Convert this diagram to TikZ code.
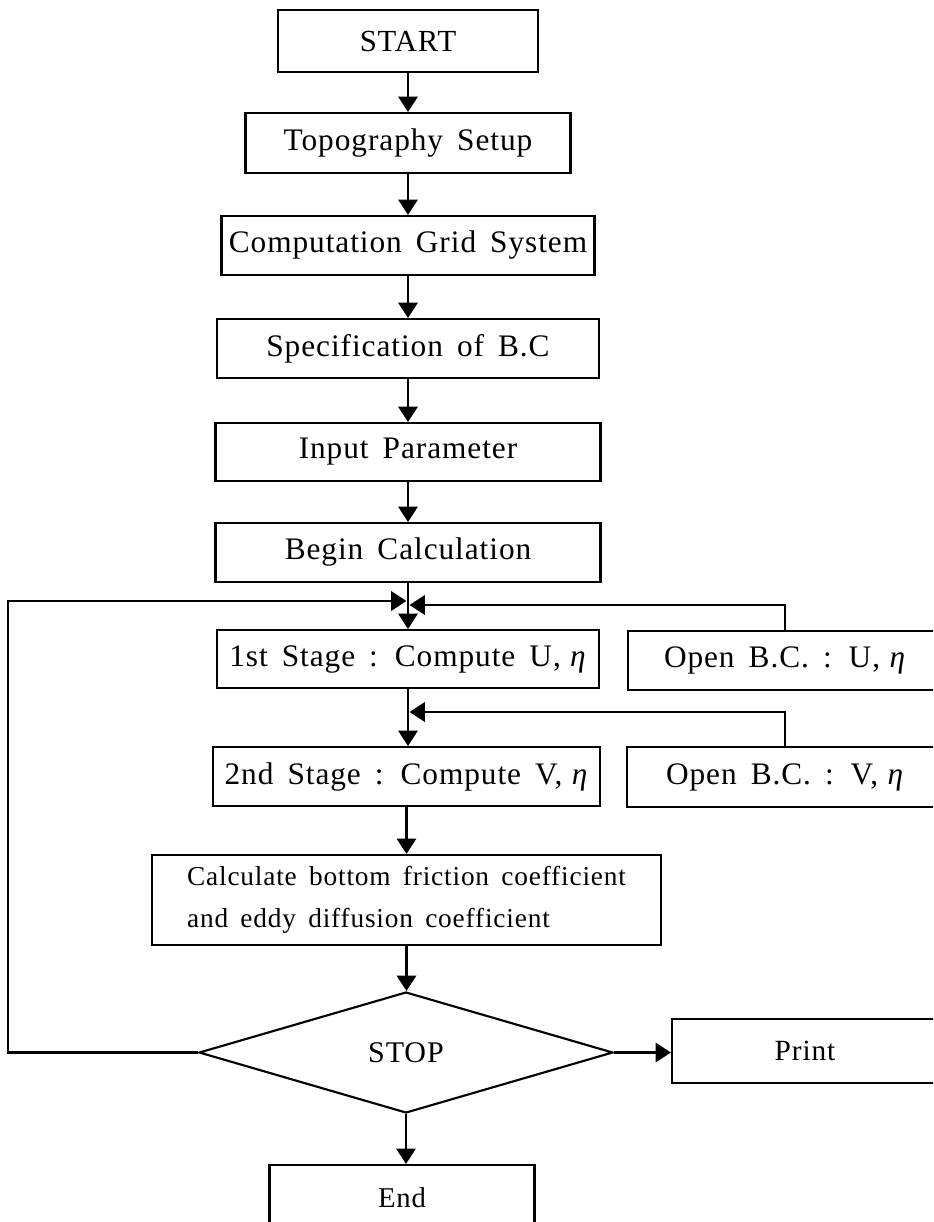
\documentclass[tikz,border=0pt]{standalone}
\usepackage{fontspec}
\setmainfont{Liberation Serif}[LetterSpace=3,WordSpace=1.6]
\usetikzlibrary{shapes.geometric,arrows.meta}
\begin{document}
\begin{tikzpicture}[x=0.75pt,y=-0.75pt,
  box/.style={draw,line width=1.6pt,rectangle,inner sep=0pt,font=\fontsize{23.5}{28}\selectfont},
  decision/.style={draw,line width=1.6pt,diamond,inner sep=0pt,font=\fontsize{22.5}{26}\selectfont},
  arr/.style={line width=1.7pt,-{Triangle[length=11.5pt,width=14.5pt]}}]
\useasboundingbox (0,0) rectangle (933,1222);
\clip (0,0) rectangle (933,1222);

\node[box,font=\fontsize{23}{27}\selectfont,minimum width=195pt,minimum height=46.5pt] (start) at (408,41) {START};
\node[box,minimum width=243.75pt,minimum height=45pt] (topo) at (408,143) {Topography Setup};
\node[box,minimum width=279.75pt,minimum height=44.25pt] (grid) at (408,245.5) {Computation Grid System};
\node[box,minimum width=286.5pt,minimum height=44.25pt] (spec) at (408,348.5) {Specification of B.C};
\node[box,minimum width=288.75pt,minimum height=43.5pt] (input) at (408,452) {Input Parameter};
\node[box,minimum width=288.75pt,minimum height=44.25pt] (begin) at (408,552.5) {Begin Calculation};
\node[box,minimum width=286.5pt,minimum height=43.5pt] (s1) at (408,659) {1st Stage : Compute U,\hspace{0.3em}\textit{η}};
\node[box,minimum width=235.5pt,minimum height=44.25pt] (obu) at (785,660.5) {Open B.C. : U,\hspace{0.3em}\textit{η}};
\node[box,minimum width=290.25pt,minimum height=44.25pt] (s2) at (406.5,776.5) {2nd Stage : Compute V,\hspace{0.3em}\textit{η}};
\node[box,minimum width=237pt,minimum height=45pt] (obv) at (785,777) {Open B.C. : V,\hspace{0.3em}\textit{η}};
\node[box,font=\fontsize{20.5}{31.5}\selectfont,align=left,minimum width=381.75pt,minimum height=67.5pt] (calc) at (406.5,900)
  {Calculate bottom friction coefficient\\and eddy diffusion coefficient};
\node[decision,minimum width=310.5pt,minimum height=90.75pt] (dia) at (406,1052.5) {STOP};
\node[box,font=\fontsize{22}{26}\selectfont,minimum width=199.5pt,minimum height=48pt] (print) at (805,1051) {Print};
\node[box,font=\fontsize{21.5}{26}\selectfont,minimum width=198.75pt,minimum height=49.5pt] (end) at (402,1198) {End};

\coordinate (loopc) at (8,601);
\coordinate (j1L) at (406.5,601);
\coordinate (j1R) at (409.5,605);
\coordinate (j2) at (409.5,712);

\draw[arr] (start.south) -- (start.south |- topo.north);
\draw[arr] (topo.south) -- (topo.south |- grid.north);
\draw[arr] (grid.south) -- (grid.south |- spec.north);
\draw[arr] (spec.south) -- (spec.south |- input.north);
\draw[arr] (input.south) -- (input.south |- begin.north);
\draw[arr] (begin.south) -- (begin.south |- s1.north);
\draw[arr] (s1.south) -- (s1.south |- s2.north);
\draw[arr] (s2.south) -- (s2.south |- calc.north);
\draw[arr] (calc.south) -- (calc.south |- dia.north);
\draw[arr] (dia.south) -- (dia.south |- end.north);
\draw[arr] (dia.east) -- (dia.east -| print.west);
\draw[arr] (dia.west) -| (loopc) -- (j1L);
\draw[arr] (obu.north) |- (j1R);
\draw[arr] (obv.north) |- (j2);
\end{tikzpicture}
\end{document}
